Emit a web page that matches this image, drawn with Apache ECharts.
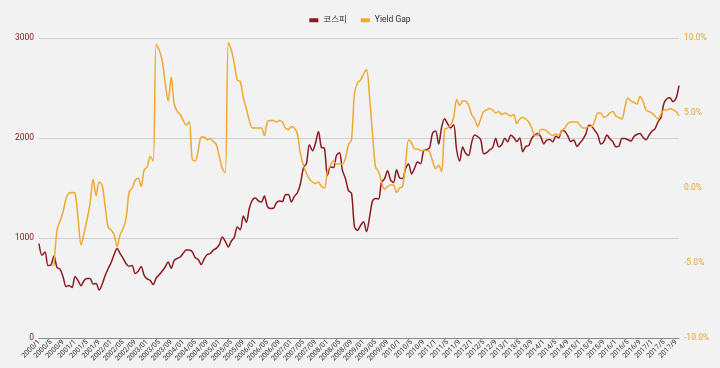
<!DOCTYPE html>
<html>
<head>
<meta charset="utf-8">
<script src="https://cdn.jsdelivr.net/npm/echarts@6/dist/echarts.min.js"></script>
<style>
html,body{margin:0;padding:0;background:#f2f2f2;}
#chart{width:720px;height:368px;}
</style>
</head>
<body>
<div id="chart"></div>
<script>
// Categories: monthly 2000/1 .. 2017/10
const startYear = 2000, endYear = 2017, endMonth = 10;
const categories = [];
for (let y = startYear; y <= endYear; y++) {
  for (let m = 1; m <= 12; m++) {
    if (y === endYear && m > endMonth) break;
    const mm = (y >= 2002 && y <= 2009) ? String(m).padStart(2, '0') : String(m);
    categories.push(y + '/' + mm);
  }
}

const seriesNames = ['코스피', 'Yield Gap'];

// KOSPI monthly values
const kospi = [
  943, 828, 860, 725, 731, 821, 705, 688, 613, 514, 526, 504,
  615, 574, 523, 576, 595, 595, 541, 545, 479, 535, 623, 693,
  752, 835, 895, 844, 796, 742, 717, 724, 646, 667, 715, 627,
  591, 576, 535, 599, 633, 670, 710, 759, 697, 776, 796, 810,
  848, 880, 880, 862, 803, 785, 735, 793, 835, 845, 879, 896,
  933, 1011, 966, 911, 970, 1008, 1111, 1083, 1221, 1158, 1297, 1379,
  1399, 1371, 1359, 1419, 1317, 1295, 1297, 1352, 1371, 1364, 1432, 1434,
  1360, 1417, 1453, 1543, 1700, 1744, 1933, 1873, 1946, 2064, 1906, 1897,
  1624, 1711, 1704, 1825, 1852, 1674, 1594, 1474, 1448, 1113, 1076, 1124,
  1162, 1063, 1206, 1369, 1396, 1390, 1557, 1591, 1673, 1581, 1555, 1682,
  1602, 1594, 1692, 1741, 1641, 1698, 1759, 1742, 1873, 1883, 1905, 2051,
  2069, 1939, 2107, 2192, 2142, 2101, 2133, 1880, 1770, 1909, 1847, 1826,
  1956, 2030, 2014, 1982, 1843, 1854, 1882, 1905, 1996, 1912, 1933, 1997,
  1962, 2027, 2005, 1964, 2001, 1863, 1915, 1926, 1997, 2031, 2045, 2011,
  1941, 1980, 1986, 1962, 2017, 2002, 2076, 2068, 2020, 1964, 1981, 1916,
  1949, 1986, 2041, 2127, 2115, 2074, 2030, 1941, 1963, 2029, 1992, 1961,
  1912, 1917, 1996, 1994, 1983, 1970, 2016, 2035, 2044, 2008, 1983, 2026,
  2067, 2092, 2160, 2205, 2347, 2392, 2403, 2363, 2394, 2523
];

// Yield Gap (%) monthly values
const yieldGap = [
  null, null, null, null, null, -5.2, -2.8, -2.2, -1.6, -0.7, -0.35, -0.3,
  -0.35, -2.0, -3.8, -3.0, -2.1, -1.0, 0.6, -0.5, 0.4, 0.2, -1.2, -2.6,
  -2.8, -3.1, -3.9, -3.1, -2.7, -2.0, -0.25, 0.0, 0.5, 0.65, 0.1, 1.2,
  1.4, 2.1, 1.8, 9.6, 9.2, 8.5, 7.0, 5.8, 7.4, 5.6, 5.1, 4.9,
  4.5, 4.2, 4.4, 1.9, 1.8, 2.5, 3.4, 3.4, 3.2, 3.3, 3.1, 2.9,
  2.1, 1.3, 1.0, 9.7, 9.2, 8.3, 7.2, 7.1, 6.0, 5.3, 4.5, 4.0,
  4.0, 4.0, 4.0, 3.5, 4.4, 4.5, 4.5, 4.4, 4.5, 4.4, 4.0, 3.9,
  4.1, 4.0, 3.6, 2.3, 1.5, 1.0, 0.6, 0.4, 0.3, 0.4, 0.1, 0.0,
  1.1, 1.5, 1.8, 1.6, 1.6, 1.6, 2.0, 2.9, 3.2, 6.3, 7.0, 7.2,
  7.6, 7.9, 6.1, 3.6, 1.4, 1.1, 0.4, -0.1, 0.1, 0.2, 0.2, -0.3,
  0.0, 0.1, 1.6, 3.2, 3.0, 2.6, 2.6, 2.5, 2.5, 2.5, 2.4, 1.8,
  1.3, 1.5, 1.1, 3.9, 4.0, 4.2, 4.7, 5.9, 5.5, 5.8, 5.8, 5.5,
  4.9, 4.6, 4.1, 4.6, 5.1, 5.2, 5.3, 5.2, 5.0, 5.1, 4.9, 5.0,
  4.9, 4.8, 4.9, 4.3, 4.6, 4.7, 4.6, 4.4, 4.0, 3.5, 3.5, 3.9,
  3.9, 3.8, 3.6, 3.5, 3.6, 3.5, 3.8, 4.0, 4.3, 4.4, 4.4, 4.4,
  4.2, 4.0, 4.0, 4.1, 4.1, 4.5, 5.0, 5.0, 4.7, 4.8, 5.0, 5.1,
  4.8, 4.7, 4.6, 5.4, 6.0, 5.8, 5.7, 5.6, 6.1, 5.8, 5.2, 5.1,
  5.0, 4.8, 4.6, 4.9, 5.2, 5.2, 5.3, 5.2, 5.1, 4.8
];

const leftTicks = { min: 0, max: 3000, interval: 1000 };
const rightTicks = { min: -10, max: 10, interval: 5 };

const colKospi = '#8c1a22';
const colGap = '#f0a830';
const font = 'Roboto, "Noto Sans CJK KR", "Noto Sans", sans-serif';

const chart = echarts.init(document.getElementById('chart'), null, { renderer: 'canvas' });
chart.setOption({
  backgroundColor: '#f2f2f2',
  animation: false,
  textStyle: { fontFamily: font },
  legend: {
    top: 11,
    left: 'center',
    icon: 'rect',
    itemWidth: 9,
    itemHeight: 4,
    itemGap: 14,
    textStyle: { fontSize: 8.5, color: '#333', fontFamily: font },
    data: seriesNames
  },
  grid: { left: 39, right: 41, top: 38, bottom: 30, containLabel: false },
  xAxis: {
    type: 'category',
    data: categories,
    boundaryGap: false,
    axisLine: { show: true, lineStyle: { color: '#888', width: 1 } },
    axisTick: { show: false },
    axisLabel: { interval: 3, rotate: 45, fontSize: 7, color: '#333', margin: 3, fontFamily: font },
    splitLine: { show: false }
  },
  yAxis: [
    {
      type: 'value',
      min: leftTicks.min, max: leftTicks.max, interval: leftTicks.interval,
      axisLine: { show: false },
      axisTick: { show: false },
      axisLabel: { color: '#7e1a22', fontSize: 8.5, margin: 5, fontFamily: font,
        formatter: v => String(v) },
      splitLine: { show: true, lineStyle: { color: '#d0d0d0', width: 1 } }
    },
    {
      type: 'value',
      min: rightTicks.min, max: rightTicks.max, interval: rightTicks.interval,
      axisLine: { show: false },
      axisTick: { show: false },
      axisLabel: { color: '#e3a33a', fontSize: 8.5, margin: 5, fontFamily: font,
        formatter: v => v.toFixed(1) + '%' },
      splitLine: { show: false }
    }
  ],
  series: [
    {
      name: seriesNames[0], type: 'line', yAxisIndex: 0, data: kospi,
      showSymbol: false, smooth: 0.3,
      lineStyle: { color: colKospi, width: 1.5 }, itemStyle: { color: colKospi }
    },
    {
      name: seriesNames[1], type: 'line', yAxisIndex: 1, data: yieldGap,
      showSymbol: false, smooth: 0.3,
      lineStyle: { color: colGap, width: 1.5 }, itemStyle: { color: colGap }
    }
  ]
});
</script>
</body>
</html>
